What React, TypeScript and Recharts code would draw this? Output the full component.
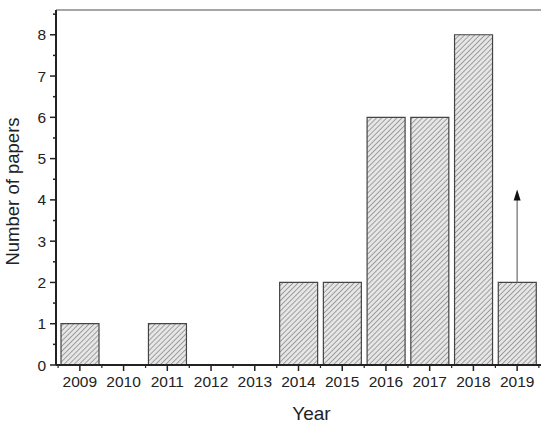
import React from 'react'
import {
  BarChart,
  Bar,
  XAxis,
  YAxis,
  ReferenceLine,
} from 'recharts'

// data
const years = ['2009', '2010', '2011', '2012', '2013', '2014', '2015', '2016', '2017', '2018', '2019']
const papers = [1, 0, 1, 0, 0, 2, 2, 6, 6, 8, 2]
const yTicks = [0, 0.5, 1, 1.5, 2, 2.5, 3, 3.5, 4, 4.5, 5, 5.5, 6, 6.5, 7, 7.5, 8, 8.5]
const yMax = 8.6
// arrow on the last (incomplete) year
const arrowYear = '2019'
const arrowFrom = 2
const arrowTo = 4.25

const FONT = '"Liberation Sans", Arial, sans-serif'
const BAND = 43.5

const chartData = years.map((y, i) => ({ year: y, papers: papers[i] }))

const YTick = ({ x, y, payload }: any) => {
  const v = payload.value
  const major = Number.isInteger(v)
  return (
    <g>
      <line x1={x} x2={x - (major ? 6 : 3)} y1={y} y2={y} stroke="#222" strokeWidth={1.5} />
      {major && (
        <text x={x - 10} y={y} dy={5.5} textAnchor="end" fontSize={15.5} fill="#222" fontFamily={FONT}>
          {v}
        </text>
      )}
    </g>
  )
}

const XTick = ({ x, y, payload, index }: any) => (
  <g>
    <line x1={x} x2={x} y1={y} y2={y + 6} stroke="#222" strokeWidth={1.5} />
    <line x1={x - BAND / 2} x2={x - BAND / 2} y1={y - 1} y2={y + 3} stroke="#222" strokeWidth={1.2} />
    {index === years.length - 1 && (
      <line x1={x + BAND / 2} x2={x + BAND / 2} y1={y - 1} y2={y + 3} stroke="#222" strokeWidth={1.2} />
    )}
    <text x={x} y={y + 22} textAnchor="middle" fontSize={15.5} fill="#222" fontFamily={FONT}>
      {payload.value}
    </text>
  </g>
)

const Arrow = ({ x1, y1, x2, y2 }: any) => (
  <g>
    <line x1={x1} y1={y1} x2={x2} y2={y2 + 8} stroke="#777" strokeWidth={1.3} />
    <path d={`M${x2},${y2} L${x2 - 3.5},${y2 + 11} L${x2 + 3.5},${y2 + 11} Z`} fill="#111" />
  </g>
)

export default function App() {
  return (
    <div style={{ position: 'absolute', left: 0, top: 0, width: 550, height: 426, background: '#fff' }}>
      <BarChart
        width={550}
        height={426}
        data={chartData}
        margin={{ top: 10, right: 9, left: 0, bottom: 0 }}
        barCategoryGap={3}
      >
        <defs>
          <pattern id="hatch" width="3.6" height="3.6" patternUnits="userSpaceOnUse" patternTransform="rotate(45)">
            <rect width="3.6" height="3.6" fill="#e6e6e6" />
            <line x1="0" y1="0" x2="0" y2="3.6" stroke="#5a5a5a" strokeWidth={1} />
          </pattern>
        </defs>
        <XAxis
          dataKey="year"
          height={61}
          padding={{ left: 2, right: 2 }}
          tickLine={false}
          tickSize={0}
          tickMargin={0}
          interval={0}
          tick={<XTick />}
          axisLine={{ stroke: '#222', strokeWidth: 2 }}
          label={{ value: 'Year', position: 'insideBottom', offset: 6, dx: 13, fontSize: 19, fill: '#222', fontFamily: FONT }}
        />
        <YAxis
          width={56}
          domain={[0, yMax]}
          ticks={yTicks}
          interval={0}
          tickLine={false}
          tickSize={0}
          tickMargin={0}
          tick={<YTick />}
          axisLine={{ stroke: '#222', strokeWidth: 2 }}
          label={{
            value: 'Number of papers',
            angle: -90,
            position: 'insideLeft',
            offset: 12,
            dy: 4,
            style: { textAnchor: 'middle' },
            fontSize: 18.5,
            fill: '#222',
            fontFamily: FONT,
          }}
        />
        <YAxis
          yAxisId="right"
          orientation="right"
          width={0}
          domain={[0, yMax]}
          tick={false}
          tickLine={false}
          axisLine={{ stroke: '#777', strokeWidth: 1.5 }}
        />
        <ReferenceLine y={yMax} stroke="#888" strokeWidth={1.5} ifOverflow="visible" />
        <Bar
          dataKey="papers"
          fill="url(#hatch)"
          stroke="#444"
          strokeWidth={1.2}
          isAnimationActive={false}
        />
        <ReferenceLine
          segment={[
            { x: arrowYear, y: arrowFrom },
            { x: arrowYear, y: arrowTo },
          ]}
          shape={<Arrow />}
          ifOverflow="visible"
        />
      </BarChart>
    </div>
  )
}
